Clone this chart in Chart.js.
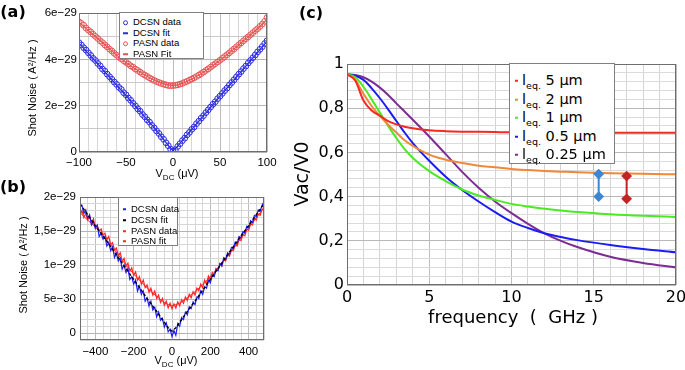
<!DOCTYPE html>
<html>
<head>
<meta charset="utf-8">
<script src="https://cdn.jsdelivr.net/npm/chart.js@4.4.1/dist/chart.umd.min.js"></script>
<style>
  body { margin: 0; width: 685px; height: 370px; position: relative; overflow: hidden; background: #fff; }
  canvas { position: absolute; }
  .txt { position: absolute; white-space: nowrap; transform: translate(-50%, -50%); line-height: 1; color: #000; }
  .vert { transform: translate(-50%, -50%) rotate(-90deg); }
  .small { font-family: "Liberation Sans", Arial, sans-serif; font-size: 11px; }
  .big { font-family: "DejaVu Sans", sans-serif; }
  .panel { font-family: "DejaVu Sans", sans-serif; font-weight: bold; font-size: 16px; }
  .sub { font-size: 8px; position: relative; top: 3px; }
  .legend { position: absolute; background: #fff; border: 1px solid #808080; box-sizing: border-box; }
  .legend div { position: absolute; white-space: nowrap; line-height: 1; transform: translateY(-50%); }
  .mark { display: inline-block; vertical-align: middle; box-sizing: border-box; }
</style>
</head>
<body>
<canvas id="chartA" width="285" height="180" style="left:0;top:0"></canvas>
<canvas id="chartB" width="285" height="190" style="left:0;top:180px"></canvas>
<canvas id="chartC" width="395" height="370" style="left:290px;top:0"></canvas>

<div class="txt panel" style="left:13px;top:12px">(a)</div>
<div class="txt panel" style="left:13px;top:187px">(b)</div>
<div class="txt panel" style="left:311px;top:13px">(c)</div>

<div class="txt small vert" style="left:32px;top:88px">Shot Noise ( A²/Hz )</div>
<div class="txt small" style="left:177px;top:173px">V<span class="sub">DC</span> (μV)</div>
<div class="txt small vert" style="left:23px;top:265px">Shot Noise ( A²/Hz )</div>
<div class="txt small" style="left:176px;top:360px">V<span class="sub">DC</span> (μV)</div>

<div class="txt big vert" style="left:301px;top:174px;font-size:19px">Vac/V0</div>
<div class="txt big" style="left:513px;top:317px;font-size:18px">frequency&nbsp; (&nbsp; GHz )</div>

<div id="legA" class="legend small" style="left:119px;top:12px;width:85px;height:47px;font-size:9.5px"></div>
<div id="legB" class="legend small" style="left:118px;top:197px;width:60px;height:49px;font-size:9.5px"></div>
<div id="legC" class="legend big" style="left:509px;top:63px;width:106px;height:101px;font-size:14.5px"></div>

<script>
// (a) shot noise vs V_DC, values in units of 1e-29 A²/Hz
const vA = [-100,-97.5,-95,-92.5,-90,-87.5,-85,-82.5,-80,-77.5,-75,-72.5,-70,-67.5,-65,-62.5,-60,-57.5,-55,-52.5,
  -50,-47.5,-45,-42.5,-40,-37.5,-35,-32.5,-30,-27.5,-25,-22.5,-20,-17.5,-15,-12.5,-10,-7.5,-5,-2.5,
  0,2.5,5,7.5,10,12.5,15,17.5,20,22.5,25,27.5,30,32.5,35,37.5,40,42.5,45,47.5,
  50,52.5,55,57.5,60,62.5,65,67.5,70,72.5,75,77.5,80,82.5,85,87.5,90,92.5,95,97.5,100];
const dcsnA = [4.72,4.62,4.50,4.40,4.28,4.17,4.04,3.95,3.82,3.72,3.58,3.49,3.36,3.25,3.14,3.02,2.92,2.79,2.70,2.56,
  2.47,2.33,2.23,2.10,1.99,1.86,1.76,1.62,1.52,1.39,1.29,1.15,1.04,0.91,0.80,0.66,0.55,0.40,0.27,0.12,
  0.04,0.10,0.24,0.36,0.49,0.60,0.74,0.85,0.98,1.08,1.22,1.33,1.46,1.57,1.70,1.82,1.94,2.06,2.17,2.30,
  2.41,2.53,2.65,2.76,2.89,3.00,3.12,3.24,3.36,3.47,3.60,3.71,3.84,3.95,4.07,4.19,4.32,4.43,4.55,4.68,4.80];
const pasnA = [5.62,5.55,5.47,5.35,5.26,5.18,5.08,4.99,4.90,4.80,4.72,4.62,4.54,4.44,4.36,4.26,4.18,4.09,4.02,3.94,
  3.87,3.80,3.72,3.66,3.58,3.52,3.45,3.38,3.32,3.26,3.20,3.14,3.09,3.04,3.00,2.96,2.93,2.90,2.87,2.86,
  2.87,2.88,2.90,2.93,2.96,3.01,3.05,3.10,3.15,3.20,3.26,3.32,3.38,3.45,3.52,3.59,3.66,3.74,3.81,3.89,
  3.96,4.04,4.12,4.20,4.28,4.37,4.45,4.54,4.63,4.71,4.80,4.89,4.97,5.06,5.15,5.24,5.32,5.42,5.52,5.64,5.80];
const vFitA = [-100,-90,-80,-70,-60,-50,-40,-30,-20,-10,-5,0,5,10,20,30,40,50,60,70,80,90,100];
const dcsnFitA = [4.70,4.25,3.80,3.34,2.89,2.44,1.98,1.52,1.05,0.55,0.28,0.05,0.25,0.50,0.98,1.45,1.93,2.41,2.88,3.35,3.83,4.30,4.78];
const pasnFitA = [5.60,5.25,4.90,4.54,4.18,3.86,3.58,3.32,3.10,2.94,2.90,2.88,2.90,2.96,3.15,3.38,3.66,3.96,4.28,4.62,4.97,5.32,5.72];
const legendA = ["DCSN data", "DCSN fit", "PASN data", "PASN Fit"];

// (b) wider bias range, values in units of 1e-29 A²/Hz
const vB = [-480,-470,-460,-450,-440,-430,-420,-410,-400,-390,-380,-370,-360,-350,-340,-330,-320,-310,-300,-290,
  -280,-270,-260,-250,-240,-230,-220,-210,-200,-190,-180,-170,-160,-150,-140,-130,-120,-110,-100,-90,
  -80,-70,-60,-50,-40,-30,-20,-10,0,10,20,30,40,50,60,70,80,90,100,110,
  120,130,140,150,160,170,180,190,200,210,220,230,240,250,260,270,280,290,300,310,
  320,330,340,350,360,370,380,390,400,410,420,430,440,450,460,470,480];
const dcsnB = [1.87,1.88,1.76,1.81,1.69,1.74,1.59,1.64,1.54,1.59,1.42,1.47,1.38,1.42,1.28,1.33,1.21,1.27,1.11,1.17,
  1.06,1.10,0.94,1.00,0.89,0.95,0.79,0.83,0.72,0.78,0.62,0.69,0.57,0.62,0.47,0.52,0.40,0.47,0.34,0.38,
  0.24,0.31,0.19,0.22,0.09,0.15,0.02,0.06,-0.05,0.04,-0.03,0.14,0.10,0.23,0.20,0.31,0.27,0.39,0.36,0.46,
  0.42,0.53,0.51,0.62,0.57,0.68,0.66,0.78,0.74,0.85,0.83,0.94,0.92,1.02,0.99,1.11,1.08,1.18,1.16,1.26,
  1.24,1.34,1.32,1.42,1.40,1.49,1.47,1.57,1.55,1.65,1.63,1.73,1.71,1.81,1.79,1.88,1.93];
const pasnB = [1.74,1.80,1.70,1.76,1.66,1.72,1.61,1.68,1.55,1.58,1.50,1.53,1.44,1.47,1.37,1.42,1.30,1.33,1.22,1.25,
  1.14,1.18,1.05,1.10,0.98,1.03,0.91,0.96,0.85,0.90,0.78,0.83,0.72,0.78,0.67,0.71,0.60,0.66,0.56,0.62,
  0.51,0.56,0.45,0.51,0.41,0.47,0.37,0.44,0.36,0.43,0.37,0.46,0.40,0.49,0.44,0.53,0.48,0.57,0.52,0.61,
  0.56,0.66,0.62,0.72,0.67,0.78,0.72,0.84,0.79,0.89,0.85,0.95,0.92,1.02,0.98,1.08,1.06,1.15,1.13,1.22,
  1.21,1.30,1.28,1.38,1.36,1.45,1.43,1.53,1.51,1.60,1.59,1.68,1.66,1.75,1.73,1.82,1.83];
const vFitB = [-480,-440,-400,-360,-320,-280,-240,-200,-160,-120,-80,-40,-20,0,20,40,80,120,160,200,240,280,320,360,400,440,480];
const dcsnFitB = [1.90,1.74,1.58,1.43,1.27,1.11,0.95,0.79,0.63,0.47,0.32,0.16,0.08,0.03,0.08,0.16,0.32,0.47,0.63,0.79,0.95,1.11,1.27,1.43,1.58,1.74,1.90];
const pasnFitB = [1.77,1.66,1.56,1.43,1.30,1.15,1.00,0.87,0.75,0.64,0.54,0.45,0.42,0.40,0.42,0.44,0.52,0.61,0.71,0.83,0.96,1.10,1.24,1.40,1.55,1.70,1.84];
const yTicksB = { 0: "0", 0.5: "5e\u221230", 1: "1e\u221229", 1.5: "1,5e\u221229", 2: "2e\u221229" };
const legendB = ["DCSN data", "DCSN fit", "PASN data", "PASN fit"];

// (c) Vac/V0 vs frequency for several equivalent lengths
const freqC = [0,0.5,1,1.5,2,2.5,3,3.5,4,5,6,7,8,9,10,11,12,13,14,16,18,20];
const leq5 = [0.953,0.925,0.835,0.79,0.765,0.742,0.727,0.716,0.709,0.700,0.696,0.694,0.693,0.692,0.691,0.691,0.690,0.690,0.690,0.689,0.689,0.689];
const leq2 = [0.953,0.928,0.865,0.81,0.765,0.725,0.69,0.655,0.63,0.59,0.567,0.552,0.54,0.533,0.525,0.52,0.516,0.513,0.51,0.506,0.503,0.501];
const leq1 = [0.953,0.94,0.897,0.84,0.78,0.72,0.665,0.615,0.575,0.515,0.47,0.432,0.405,0.385,0.367,0.355,0.345,0.337,0.33,0.32,0.313,0.308];
const leq05 = [0.953,0.947,0.928,0.89,0.845,0.795,0.742,0.69,0.642,0.562,0.49,0.43,0.378,0.33,0.287,0.258,0.234,0.217,0.203,0.181,0.163,0.148];
const leq025 = [0.953,0.95,0.94,0.92,0.893,0.86,0.822,0.785,0.748,0.672,0.592,0.512,0.44,0.378,0.325,0.277,0.234,0.2,0.172,0.128,0.1,0.08];
const leqNames = ["5 μm", "2 μm", "1 μm", "0.5 μm", "0.25 μm"];
const leqColors = ["#f52a22", "#f0883a", "#4aea22", "#1c1cf5", "#7d2c96"];
const errX = [15.3, 17.0];
const errTop = [0.502, 0.493];
const errBot = [0.40, 0.39];
const errColors = ["#3c86d6", "#c42424"];

const blueA = "#2a2ae0", redA = "#e65252";
const blueB = "#1e1eff", redB = "#ff2626";

const xy = (xs, ys) => xs.map((x, i) => ({ x: x, y: ys[i] }));
const minus = v => String(v).replace("-", "\u2212");
const smallFont = { family: "Liberation Sans", size: 11.5 };
const bigFont = { family: "DejaVu Sans", size: 16 };

const framePlugin = {
  id: "frame",
  afterDraw(chart) {
    const { ctx, chartArea: a } = chart;
    ctx.save();
    ctx.strokeStyle = "#6e6e6e";
    ctx.lineWidth = 1;
    ctx.strokeRect(Math.round(a.left) + 0.5, Math.round(a.top) + 0.5, Math.round(a.right - a.left) - 1, Math.round(a.bottom - a.top) - 1);
    ctx.restore();
  }
};

// pin the plot area: canvas w/h and the wanted chart area edges
function box(w, h, left, top, right, bottom) {
  return {
    padding: { left: 0, top: top, right: w - right, bottom: 0 },
    fitX: s => { s.height = h - bottom; s.paddingLeft = 0; s.paddingRight = 0; },
    fitY: s => { s.width = left; s.paddingTop = 0; s.paddingBottom = 0; }
  };
}

function axis(opts) {
  return {
    type: "linear", min: opts.min, max: opts.max,
    afterFit: opts.fit,
    border: { display: false },
    grid: { drawTicks: false, lineWidth: 1, color: c => (c.tick && opts.major(c.tick.value)) ? opts.majorColor : opts.minorColor },
    ticks: {
      stepSize: opts.step, maxTicksLimit: 1000, autoSkip: false, maxRotation: 0, minRotation: 0,
      padding: opts.pad, font: opts.font, color: "#000",
      callback: v => opts.major(v) ? opts.label(v) : ""
    }
  };
}

const isMult = (v, m) => Math.abs(v / m - Math.round(v / m)) < 1e-6;

// ---- (a)
const bA = box(285, 180, 79, 13, 267, 152);
new Chart(document.getElementById("chartA"), {
  type: "line",
  data: {
    datasets: [
      { data: xy(vA, dcsnA), showLine: false, pointRadius: 2.9, pointBorderWidth: 1, pointBorderColor: blueA, pointBackgroundColor: "rgba(0,0,0,0)" },
      { data: xy(vFitA, dcsnFitA), borderColor: blueA, borderWidth: 1.2, pointRadius: 0 },
      { data: xy(vA, pasnA), showLine: false, pointRadius: 2.9, pointBorderWidth: 1, pointBorderColor: redA, pointBackgroundColor: "rgba(0,0,0,0)" },
      { data: xy(vFitA, pasnFitA), borderColor: redA, borderWidth: 1.2, pointRadius: 0 }
    ]
  },
  options: {
    responsive: false, animation: false, devicePixelRatio: 1,
    layout: { padding: bA.padding },
    plugins: { legend: { display: false }, tooltip: { enabled: false } },
    scales: {
      x: axis({ min: -100, max: 100, step: 10, fit: bA.fitX, pad: 4, font: smallFont,
        major: v => isMult(v, 50), label: minus, majorColor: "#bcbcbc", minorColor: "#d6d6d6" }),
      y: axis({ min: 0, max: 6, step: 1, fit: bA.fitY, pad: 2, font: smallFont,
        major: v => isMult(v, 2), label: v => v === 0 ? "0" : v + "e\u221229", majorColor: "#b4b4b4", minorColor: "#c8c8c8" })
    }
  },
  plugins: [framePlugin]
});

// ---- (b)
const bB = box(285, 190, 80, 17, 264, 160);
new Chart(document.getElementById("chartB"), {
  type: "line",
  data: {
    datasets: [
      { data: xy(vFitB, dcsnFitB), borderColor: "#000", borderWidth: 1.4, borderDash: [3, 2], pointRadius: 0 },
      { data: xy(vB, dcsnB), borderColor: blueB, borderWidth: 1.2, pointRadius: 0 },
      { data: xy(vFitB, pasnFitB), borderColor: redB, borderWidth: 1, pointRadius: 0 },
      { data: xy(vB, pasnB), borderColor: redB, borderWidth: 1.2, pointRadius: 0 }
    ]
  },
  options: {
    responsive: false, animation: false, devicePixelRatio: 1,
    layout: { padding: bB.padding },
    plugins: { legend: { display: false }, tooltip: { enabled: false } },
    scales: {
      x: axis({ min: -480, max: 480, step: 40, fit: bB.fitX, pad: 5, font: smallFont,
        major: v => isMult(v, 200), label: minus, majorColor: "#bcbcbc", minorColor: "#d6d6d6" }),
      y: axis({ min: -0.1, max: 2, step: 0.1, fit: bB.fitY, pad: 4, font: smallFont,
        major: v => isMult(v, 0.5), label: v => yTicksB[Math.round(v * 2) / 2], majorColor: "#b4b4b4", minorColor: "#d6d6d6" })
    }
  },
  plugins: [framePlugin]
});

// ---- (c)
const bC = box(395, 370, 57, 64, 386, 285);
const curves = [leq5, leq2, leq1, leq05, leq025].map((ys, i) => ({
  data: xy(freqC, ys), borderColor: leqColors[i], borderWidth: 2, pointRadius: 0, cubicInterpolationMode: "monotone"
}));
const bars = errX.map((x, i) => ({
  data: [{ x: x, y: errTop[i] }, { x: x, y: errBot[i] }],
  borderColor: errColors[i], backgroundColor: errColors[i], borderWidth: 2,
  pointStyle: "rectRot", pointRadius: 4, pointBackgroundColor: errColors[i], pointBorderColor: errColors[i]
}));
new Chart(document.getElementById("chartC"), {
  type: "line",
  data: { datasets: bars.concat(curves) },
  options: {
    responsive: false, animation: false, devicePixelRatio: 1,
    layout: { padding: bC.padding },
    plugins: { legend: { display: false }, tooltip: { enabled: false } },
    scales: {
      x: axis({ min: 0, max: 20, step: 1, fit: bC.fitX, pad: 3, font: bigFont,
        major: v => isMult(v, 5), label: v => String(v), majorColor: "#bdbdbd", minorColor: "#d4d4d4" }),
      y: axis({ min: 0, max: 1, step: 0.04, fit: bC.fitY, pad: 3, font: bigFont,
        major: v => isMult(v, 0.2), label: v => (v === 0 || v === 1) ? String(v) : v.toFixed(1).replace(".", ","), majorColor: "#b8b8b8", minorColor: "#dadada" })
    }
  },
  plugins: [framePlugin]
});

// ---- legends
function legendRow(el, y, left, markHtml, textHtml) {
  const row = document.createElement("div");
  row.style.top = y + "px";
  row.style.left = left + "px";
  row.innerHTML = markHtml + textHtml;
  el.appendChild(row);
}
const circle = c => `<span class="mark" style="width:5px;height:5px;border:1px solid ${c};border-radius:50%;margin-right:5px"></span>`;
const dash = (c, w) => `<span class="mark" style="width:${w}px;height:2px;background:${c};margin-right:5px"></span>`;

const legA = document.getElementById("legA");
[circle(blueA), dash(blueA, 5), circle(redA), dash(redA, 5)].forEach((m, i) => legendRow(legA, [9, 19.5, 30, 40.5][i], 3, m, legendA[i]));

const legB = document.getElementById("legB");
[dash(blueB, 3), dash("#000", 3), dash(redB, 3), dash(redB, 3)].forEach((m, i) => legendRow(legB, [10.5, 21.5, 32.5, 43][i], 4, m, legendB[i]));

const legC = document.getElementById("legC");
leqNames.forEach((n, i) => legendRow(legC, [16, 34.7, 53, 72, 90][i], 5,
  `<span class="mark" style="width:3px;height:2px;background:${leqColors[i]};margin-right:4px"></span>`,
  `l<span style="font-size:9.5px;position:relative;top:4px">eq.</span> ${n}`));
</script>
</body>
</html>
